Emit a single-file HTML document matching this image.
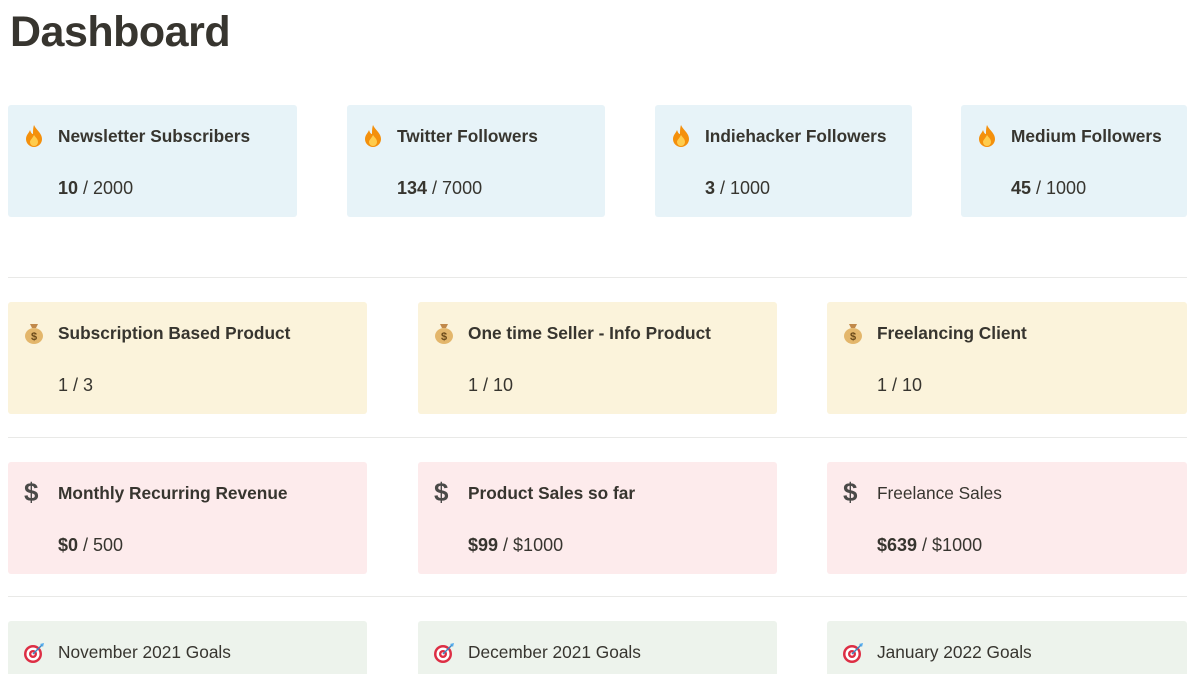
<!DOCTYPE html>
<html><head><meta charset="utf-8"><style>
*{margin:0;padding:0;box-sizing:border-box}
html{width:1200px;height:674px;overflow:hidden}
body{width:1200px;height:674px;overflow:hidden;background:#fff;font-family:"Liberation Sans",sans-serif;color:#37352f;position:relative}
h1{position:absolute;left:10px;top:8px;font-size:43px;font-weight:bold;letter-spacing:-0.5px}
.card{position:absolute;height:112px;border-radius:3px}
.card.short{height:53px;border-radius:3px 3px 0 0}
.blue{background:#e7f3f8}.yellow{background:#fbf3db}.red{background:#fdebec}.green{background:#edf3ec}
.t{position:absolute;left:50px;top:21px;font-size:17.3px;font-weight:bold;white-space:nowrap}
.t.n{font-weight:normal}
.v{position:absolute;left:50px;top:73px;font-size:18px;white-space:nowrap}
.ic{position:absolute;left:15px;top:19px;width:22px;height:24px}
.hr{position:absolute;left:8px;width:1179px;height:1px;background:#e9e9e7}
.dollar{position:absolute;left:16px;top:15px;font-size:26px;font-weight:bold;color:#4a4a48}
</style></head><body>
<h1>Dashboard</h1>

<svg width="0" height="0" style="position:absolute"><defs>
<symbol id="fire" viewBox="0 0 22 24"><path d="M11 1C13 6 19 9 19 15a8 8 0 0 1-16 0c0-4 3-6 4-9 1 3 2 4 3 4 0-3 0-6 1-9z" fill="#f4900c"/><path d="M11 11c2 3 4 4 4 7a4 4 0 0 1-8 0c0-2 2-3 4-7z" fill="#ffcc4d"/></symbol>
<symbol id="bag" viewBox="0 0 22 24"><path d="M7 3h8l-2 4h-4z" fill="#c1894a"/><ellipse cx="11" cy="15" rx="9" ry="8" fill="#e3b66b"/><text x="11" y="19" font-size="11" text-anchor="middle" fill="#6b4a1a" font-family="Liberation Sans" font-weight="bold">$</text></symbol>
<symbol id="target" viewBox="0 0 22 24"><circle cx="10" cy="14" r="9" fill="#dd2e44"/><circle cx="10" cy="14" r="6.5" fill="#fff"/><circle cx="10" cy="14" r="4" fill="#dd2e44"/><circle cx="10" cy="14" r="1.6" fill="#fff"/><path d="M10 14L19 5" stroke="#3b88c3" stroke-width="1.5"/><path d="M17 4l4-1-1 4z" fill="#55acee"/></symbol>
</defs></svg>

<div class="card blue" style="left:8px;top:105px;width:289px"><svg class="ic"><use href="#fire"/></svg><div class="t">Newsletter Subscribers</div><div class="v"><b>10</b> / 2000</div></div>
<div class="card blue" style="left:347px;top:105px;width:258px"><svg class="ic"><use href="#fire"/></svg><div class="t">Twitter Followers</div><div class="v"><b>134</b> / 7000</div></div>
<div class="card blue" style="left:655px;top:105px;width:257px"><svg class="ic"><use href="#fire"/></svg><div class="t">Indiehacker Followers</div><div class="v"><b>3</b> / 1000</div></div>
<div class="card blue" style="left:961px;top:105px;width:226px"><svg class="ic"><use href="#fire"/></svg><div class="t">Medium Followers</div><div class="v"><b>45</b> / 1000</div></div>

<div class="hr" style="top:277px"></div>

<div class="card yellow" style="left:8px;top:302px;width:359px"><svg class="ic"><use href="#bag"/></svg><div class="t">Subscription Based Product</div><div class="v">1 / 3</div></div>
<div class="card yellow" style="left:418px;top:302px;width:359px"><svg class="ic"><use href="#bag"/></svg><div class="t">One time Seller - Info Product</div><div class="v">1 / 10</div></div>
<div class="card yellow" style="left:827px;top:302px;width:360px"><svg class="ic"><use href="#bag"/></svg><div class="t">Freelancing Client</div><div class="v">1 / 10</div></div>

<div class="hr" style="top:437px"></div>

<div class="card red" style="left:8px;top:462px;width:359px"><div class="dollar">$</div><div class="t">Monthly Recurring Revenue</div><div class="v"><b>$0</b> / 500</div></div>
<div class="card red" style="left:418px;top:462px;width:359px"><div class="dollar">$</div><div class="t">Product Sales so far</div><div class="v"><b>$99</b> / $1000</div></div>
<div class="card red" style="left:827px;top:462px;width:360px"><div class="dollar">$</div><div class="t n">Freelance Sales</div><div class="v"><b>$639</b> / $1000</div></div>

<div class="hr" style="top:596px"></div>

<div class="card green short" style="left:8px;top:621px;width:359px"><svg class="ic"><use href="#target"/></svg><div class="t n">November 2021 Goals</div></div>
<div class="card green short" style="left:418px;top:621px;width:359px"><svg class="ic"><use href="#target"/></svg><div class="t n">December 2021 Goals</div></div>
<div class="card green short" style="left:827px;top:621px;width:360px"><svg class="ic"><use href="#target"/></svg><div class="t n">January 2022 Goals</div></div>
</body></html>
